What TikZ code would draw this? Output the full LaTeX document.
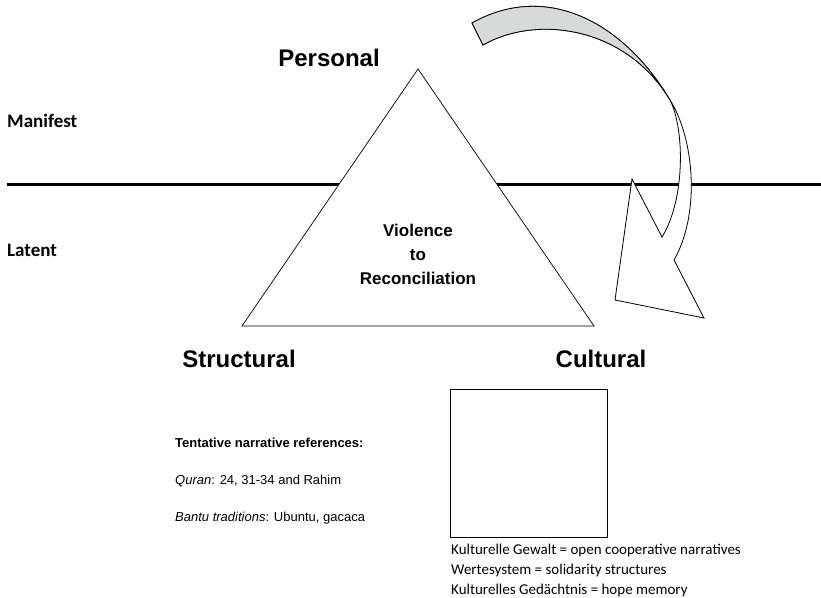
\documentclass[tikz,border=0pt]{standalone}
\usepackage{fontspec}
\newfontfamily\arialfont{Liberation Sans}
\newfontfamily\calibrifont{Carlito}
\definecolor{arrowgrey}{RGB}{216,218,218}
\tikzset{
  cornerlabel/.style={font=\arialfont\bfseries\fontsize{24}{28}\selectfont, anchor=base, inner sep=0pt},
  levellabel/.style={font=\calibrifont\bfseries\fontsize{19}{22}\selectfont, anchor=base west, inner sep=0pt},
  reftext/.style={font=\arialfont\fontsize{13}{15}\selectfont, anchor=base west, inner sep=0pt},
  culttext/.style={font=\calibrifont\fontsize{15}{17}\selectfont, anchor=base west, inner sep=0pt},
  outline/.style={draw=black, line width=0.8pt, line join=miter}
}
\begin{document}
\begin{tikzpicture}[x=1pt, y=-1pt]
    \useasboundingbox (0,0) rectangle (821,597);

    % manifest / latent divider
    \coordinate (lineL) at (7,184);
    \coordinate (lineR) at (821,184);
    \draw[line width=3pt] (lineL) -- (lineR);

    % twisted arrow
    \coordinate (tailA) at (472,23);
    \coordinate (tailB) at (483,45);
    \coordinate (twist) at (670,100);
    \coordinate (barbR) at (674,260);
    \coordinate (tip) at (704,318);
    \coordinate (headL) at (615,300);
    \coordinate (barbL) at (632,179);
    \coordinate (notch) at (662,237);
    \filldraw[outline, fill=white] (tailA) .. controls (545,-18) and (622,20) .. (twist)
        .. controls (695,140) and (700,215) .. (barbR) -- (tip) -- (headL) -- (barbL) -- (notch)
        .. controls (685,200) and (685,130) .. (twist)
        .. controls (625,25) and (535,15) .. (tailB) -- cycle;
    \filldraw[outline, fill=arrowgrey] (tailA) .. controls (545,-18) and (622,20) .. (twist)
        .. controls (625,25) and (535,15) .. (tailB) -- cycle;

    % triangle
    \coordinate (apex) at (418,69);
    \coordinate (cornerL) at (242,326);
    \coordinate (cornerR) at (594,326);
    \filldraw[outline, line width=0.7pt, fill=white] (apex) -- (cornerR) -- (cornerL) -- cycle;

    \node[cornerlabel] (personal) at (329,66) {Personal};
    \node[cornerlabel] (structural) at (239,367) {Structural};
    \node[cornerlabel] (cultural) at (601,367) {Cultural};

    \node[levellabel] (manifest) at (7,127) {Manifest};
    \node[levellabel] (latent) at (7,256) {Latent};

    \node[font=\arialfont\bfseries\fontsize{17}{24}\selectfont, align=center, inner sep=0pt] (core) at (418,254) {Violence\\to\\Reconciliation};

    % references
    \node[reftext, font=\arialfont\bfseries\fontsize{13}{15}\selectfont] (refhead) at (175,447) {Tentative narrative references:};
    \node[reftext] (quran) at (175,484) {\textit{Quran}: 24, 31-34 and Rahim};
    \node[reftext] (bantu) at (175,521) {\textit{Bantu traditions}: Ubuntu, gacaca};

    % cultural box
    \node[draw, line width=0.9pt, minimum width=157pt, minimum height=148pt, anchor=north west] (cultbox) at (450,389) {};
    \node[culttext] (gewalt) at (451,554) {Kulturelle Gewalt = open cooperative narratives};
    \node[culttext] (werte) at (451,574) {Wertesystem = solidarity structures};
    \node[culttext] (gedaechtnis) at (451,594) {Kulturelles Gedächtnis = hope memory};
\end{tikzpicture}
\end{document}
